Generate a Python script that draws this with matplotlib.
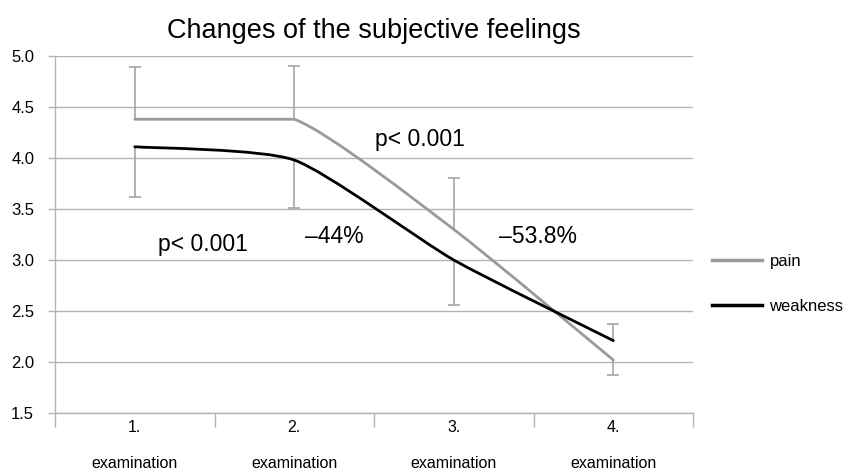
import numpy as np
import matplotlib
matplotlib.use("Agg")
import matplotlib.pyplot as plt
from matplotlib.path import Path
from matplotlib.patches import PathPatch
from matplotlib.lines import Line2D

plt.rcParams['font.family'] = ['Liberation Sans', 'DejaVu Sans']

categories = ["1.", "2.", "3.", "4."]
cat_sub = "examination"
pain = [4.38, 4.38, 3.30, 2.02]
weakness = [4.11, 3.98, 3.00, 2.21]
pain_err_plus = [0.51, 0.52, 0.50, 0.0]
pain_err_minus = [0.0, 0.0, 0.0, 0.15]
weak_err_plus = [0.0, 0.0, 0.0, 0.16]
weak_err_minus = [0.49, 0.47, 0.44, 0.0]
annotations = [("p< 0.001", 1.43, 3.15), ("p< 0.001", 2.79, 4.18),
               ("\u201344%", 2.25, 3.23), ("\u201353.8%", 3.53, 3.23)]

GRAY = "#a6a6a6"
GRID = "#b4b4b4"

fig = plt.figure(figsize=(8.53, 4.71), dpi=100)
ax = fig.add_axes([0.0645, 0.1231, 0.748, 0.758])

x = np.arange(1, len(categories) + 1, dtype=float)


def smooth_path(xs, ys, k=0.1):
    n = len(xs)
    verts = [(xs[0], ys[0])]
    codes = [Path.MOVETO]
    for i in range(n - 1):
        x0, y0 = xs[i], ys[i]
        x1, y1 = xs[i + 1], ys[i + 1]
        xm, ym = (xs[i - 1], ys[i - 1]) if i > 0 else (x0, y0)
        xp, yp = (xs[i + 2], ys[i + 2]) if i + 2 < n else (x1, y1)
        c1 = [x0 + (x1 - xm) * k, y0 + (y1 - ym) * k]
        c2 = [x1 - (xp - x0) * k, y1 - (yp - y0) * k]
        lo, hi = min(y0, y1), max(y0, y1)
        c1[1] = min(max(c1[1], lo), hi)
        c2[1] = min(max(c2[1], lo), hi)
        verts += [tuple(c1), tuple(c2), (x1, y1)]
        codes += [Path.CURVE4] * 3
    return Path(verts, codes)


def one_sided_bars(xs, ys, plus, minus):
    ys = np.asarray(ys)
    plus = np.asarray(plus)
    minus = np.asarray(minus)
    m = plus > 0
    ax.vlines(xs[m], ys[m], ys[m] + plus[m], color=GRAY, lw=1.2, zorder=3)
    ax.plot(xs[m], ys[m] + plus[m], ls='none', marker='_', ms=8, mew=1.2,
            color=GRAY, zorder=3)
    m = minus > 0
    ax.vlines(xs[m], ys[m] - minus[m], ys[m], color=GRAY, lw=1.2, zorder=3)
    ax.plot(xs[m], ys[m] - minus[m], ls='none', marker='_', ms=8, mew=1.2,
            color=GRAY, zorder=3)


one_sided_bars(x, pain, pain_err_plus, pain_err_minus)
one_sided_bars(x, weakness, weak_err_plus, weak_err_minus)

ax.add_patch(PathPatch(smooth_path(x, pain), facecolor='none', edgecolor="#9a9a9a",
                       lw=2.0, zorder=4, capstyle='round', joinstyle='round'))
ax.add_patch(PathPatch(smooth_path(x, weakness), facecolor='none', edgecolor="black",
                       lw=2.0, zorder=5, capstyle='round', joinstyle='round'))

ax.set_xlim(0.5, len(categories) + 0.5)
ax.set_ylim(1.5, 5.0)
yt = np.arange(1.5, 5.01, 0.5)
ax.set_yticks(yt)
ax.set_yticklabels([f"{v:.1f}" for v in yt], fontsize=12)
ax.yaxis.grid(True, color=GRID, lw=1.0)
ax.set_axisbelow(True)

ax.set_xticks(np.arange(0.5, len(categories) + 0.6, 1.0))
ax.set_xticklabels([])
ax.set_xticks(x, minor=True)
ax.set_xticklabels([f"{c}\n\n{cat_sub}" for c in categories], minor=True,
                   fontsize=11.5, linespacing=1.25)
ax.tick_params(axis='x', which='minor', length=0, pad=5)
ax.tick_params(axis='x', which='major', length=10, color=GRID, width=1.0)
ax.tick_params(axis='y', length=5, color=GRID, width=1.0, pad=10)

for s in ['top', 'right']:
    ax.spines[s].set_visible(False)
for s in ['left', 'bottom']:
    ax.spines[s].set_color(GRID)
    ax.spines[s].set_linewidth(1.0)

for txt, tx, ty in annotations:
    ax.text(tx, ty, txt, fontsize=16.5, ha='center', va='center', zorder=6)

fig.text(0.4385, 0.935, "Changes of the subjective feelings", fontsize=19.5,
         ha='center', va='center')

handles = [Line2D([], [], color="#9a9a9a", lw=2.5), Line2D([], [], color="black", lw=2.5)]
fig.legend(handles, ["pain", "weakness"], loc='upper left',
           bbox_to_anchor=(0.821, 0.485), frameon=False, fontsize=12,
           handlelength=3.0, labelspacing=1.8, handletextpad=0.45,
           borderaxespad=0.3)

fig.savefig("out.png", dpi=100)
